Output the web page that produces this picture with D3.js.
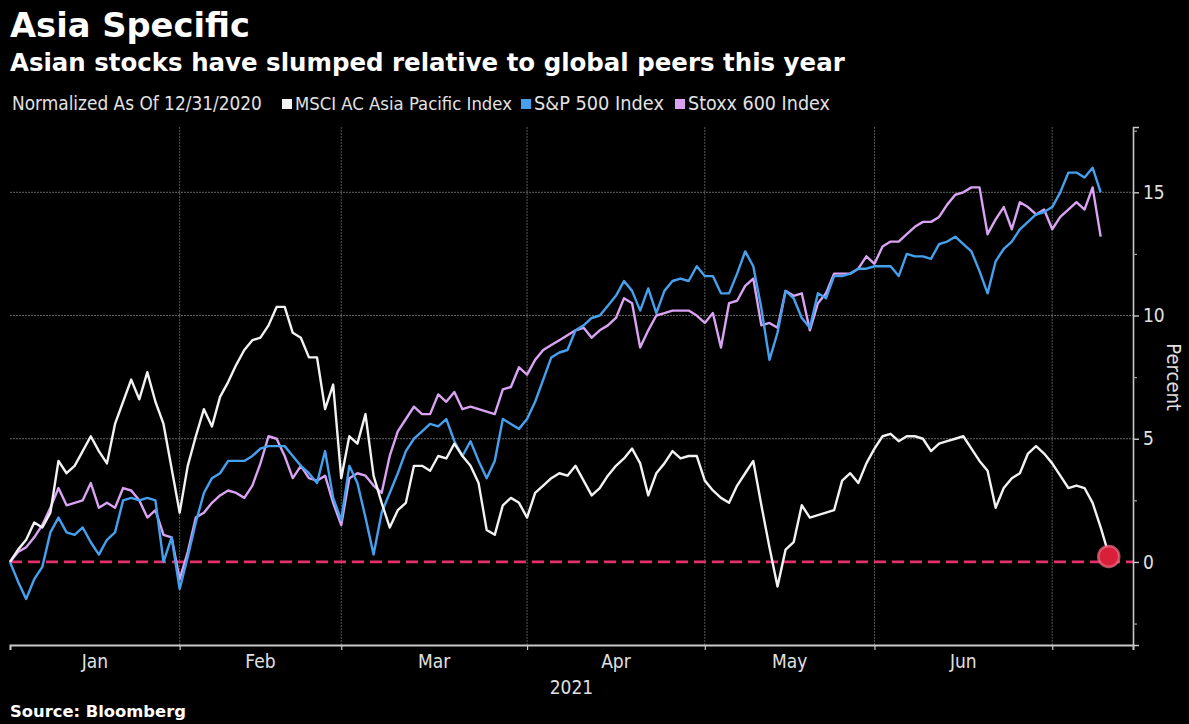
<!DOCTYPE html>
<html>
<head>
<meta charset="utf-8">
<script src="https://cdn.jsdelivr.net/npm/d3@7"></script>
<style>
  html, body { margin: 0; padding: 0; background: #000; }
  svg { display: block; }
</style>
</head>
<body>
<svg id="chart" width="1189" height="724"></svg>
<script>
// ---------------- DATA ----------------
const title = "Asia Specific";
const subtitle = "Asian stocks have slumped relative to global peers this year";
const legendNote = "Normalized As Of 12/31/2020";
const seriesNames = ["MSCI AC Asia Pacific Index", "S&P 500 Index", "Stoxx 600 Index"];
const monthLabels = ["Jan", "Feb", "Mar", "Apr", "May", "Jun"];
const yearLabel = "2021";
const yTicks = [0, 5, 10, 15];
const yMinorTicks = [-2.5, 2.5, 7.5, 12.5, 17.5];
const axisTitle = "Percent";
const source = "Source: Bloomberg";

// weekday dates (one per trading slot on the chart)
const dates = d3.timeDay.range(new Date(2021, 0, 1), new Date(2021, 6, 17))
  .filter(d => d.getDay() !== 0 && d.getDay() !== 6);

// percent change, one value per weekday
const msciAsia = [
  0, 0.5, 0.9, 1.6, 1.4, 2.0, 4.1, 3.6, 3.9, 4.5,
  5.1, 4.5, 4.0, 5.6, 6.5, 7.4, 6.6, 7.7, 6.5, 5.6,
  3.8, 2.0, 3.9, 5.1, 6.2, 5.5, 6.7, 7.3, 8.0, 8.6,
  9.0, 9.1, 9.6, 10.35, 10.35, 9.3, 9.1, 8.3, 8.3, 6.2,
  7.2, 3.4, 5.1, 4.8, 6.0, 3.5, 2.4, 1.4, 2.1, 2.4,
  3.9, 3.9, 3.7, 4.3, 4.2, 4.8, 4.3, 3.9, 3.2, 1.3,
  1.1, 2.3, 2.6, 2.4, 1.8, 2.8, 3.1, 3.4, 3.6, 3.5,
  3.9, 3.3, 2.7, 3.0, 3.5, 3.9, 4.2, 4.6, 4.0, 2.7,
  3.6, 4.0, 4.5, 4.2, 4.3, 4.3, 3.3, 2.9, 2.6, 2.4,
  3.1, 3.6, 4.1, 2.3, 0.6, -1.0, 0.5, 0.8, 2.3, 1.8,
  1.9, 2.0, 2.1, 3.3, 3.6, 3.2, 4.0, 4.6, 5.1, 5.2,
  4.9, 5.1, 5.1, 5.0, 4.5, 4.8, 4.9, 5.0, 5.1, 4.6,
  4.1, 3.7, 2.2, 3.0, 3.4, 3.6, 4.4, 4.7, 4.4, 4.0,
  3.5, 3.0, 3.1, 3.0, 2.4, 1.4, 0.3
];
const sp500 = [
  0, -0.8, -1.5, -0.7, -0.2, 1.2, 1.8, 1.2, 1.1, 1.4,
  0.8, 0.3, 0.9, 1.2, 2.5, 2.6, 2.5, 2.6, 2.5, 0.0,
  1.0, -1.1, 0.2, 1.6, 2.8, 3.4, 3.6, 4.1, 4.1, 4.1,
  4.3, 4.6, 4.7, 4.7, 4.7, 4.3, 3.9, 3.6, 3.2, 4.5,
  2.6, 1.7, 3.9, 3.2, 1.8, 0.3, 2.0, 2.8, 3.6, 4.5,
  5.0, 5.3, 5.6, 5.5, 5.8, 4.9, 4.3, 4.9, 4.1, 3.4,
  4.1, 5.8, 5.6, 5.4, 5.8, 6.5, 7.4, 8.3, 8.5, 8.6,
  9.4, 9.6, 9.9, 10.0, 10.4, 10.8, 11.4, 11.0, 10.2, 11.1,
  10.1, 11.0, 11.4, 11.5, 11.4, 12.0, 11.6, 11.6, 10.9, 10.9,
  11.7, 12.6, 12.0, 10.3, 8.2, 9.3, 11.0, 10.7, 9.9, 9.5,
  10.9, 10.7, 11.6, 11.6, 11.7, 11.9, 11.9, 12.0, 12.0, 12.0,
  11.6, 12.5, 12.4, 12.4, 12.3, 12.9, 13.0, 13.2, 12.9, 12.6,
  11.8, 10.9, 12.2, 12.7, 13.0, 13.5, 13.8, 14.1, 14.2, 14.4,
  15.0, 15.8, 15.8, 15.6, 16.0, 15.0
];
const stoxx600 = [
  0, 0.4, 0.6, 1.0, 1.5, 2.2, 3.0, 2.3, 2.4, 2.5,
  3.2, 2.2, 2.4, 2.2, 3.0, 2.9, 2.5, 1.8, 2.1, 1.1,
  1.0, -0.7, 0.4, 1.8, 2.0, 2.4, 2.7, 2.9, 2.8, 2.6,
  3.1, 4.0, 5.1, 5.0, 4.3, 3.4, 3.9, 3.4, 3.3, 3.5,
  2.4, 1.5, 3.4, 3.6, 3.5, 3.1, 2.8, 4.3, 5.3, 5.8,
  6.3, 6.0, 6.0, 6.8, 6.5, 6.9, 6.2, 6.3, 6.2, 6.1,
  6.0, 7.0, 7.1, 7.9, 7.6, 8.2, 8.6, 8.8, 9.0, 9.2,
  9.4, 9.5, 9.1, 9.4, 9.6, 9.9, 10.7, 10.5, 8.7, 9.4,
  10.0, 10.1, 10.2, 10.2, 10.2, 10.0, 9.7, 10.1, 8.7, 10.5,
  10.6, 11.2, 11.5, 9.6, 9.7, 9.5, 11.0, 10.8, 10.9, 9.4,
  10.5, 10.9, 11.7, 11.7, 11.7, 11.9, 12.4, 12.1, 12.8, 13.0,
  13.0, 13.3, 13.6, 13.8, 13.8, 14.0, 14.5, 14.9, 15.0, 15.2,
  15.2, 13.3, 13.9, 14.4, 13.5, 14.6, 14.4, 14.1, 14.3, 13.5,
  14.0, 14.3, 14.6, 14.3, 15.2, 13.2
];
const seriesValues = [msciAsia, sp500, stoxx600];
const seriesColors = ["#f2f2f2", "#45a0ee", "#d9a2f2"];

// ---------------- LAYOUT ----------------
const svg = d3.select("#chart");
const W = 1189, H = 724;
svg.append("rect").attr("width", W).attr("height", H).attr("fill", "#000");

const plot = { left: 10, right: 1133, top: 127, bottom: 645 };
const x = d3.scaleLinear().domain([0, 139]).range([plot.left, plot.right]);
const y = d3.scaleLinear().domain([-3.37, 17.65]).range([plot.bottom, plot.top]);

const condensed = "'DejaVu Sans Condensed', 'DejaVu Sans', sans-serif";
const boldFont = "'DejaVu Sans', Verdana, sans-serif";

function fitWidth(sel, target) {
  const node = sel.node();
  const w = node.getComputedTextLength();
  const fs = parseFloat(sel.attr("font-size"));
  if (w > 0) sel.attr("font-size", (fs * target / w).toFixed(2));
  return sel;
}

// Titles
fitWidth(svg.append("text").attr("x", 10).attr("y", 37)
  .attr("font-family", boldFont).attr("font-weight", "bold")
  .attr("font-size", 34).attr("fill", "#ffffff").text(title), 240);
fitWidth(svg.append("text").attr("x", 10).attr("y", 71)
  .attr("font-family", boldFont).attr("font-weight", "bold")
  .attr("font-size", 23).attr("fill", "#ffffff").text(subtitle), 835);

// Legend
const legendY = 110;
fitWidth(svg.append("text").attr("x", 12).attr("y", legendY)
  .attr("font-family", condensed).attr("font-size", 16).attr("fill", "#e2e2e2")
  .text(legendNote), 250);
const legendItems = [
  { sq: 282, tx: 295, w: 217 },
  { sq: 521, tx: 534, w: 130 },
  { sq: 675, tx: 688, w: 142 }
];
seriesNames.forEach((name, i) => {
  const it = legendItems[i];
  svg.append("rect").attr("x", it.sq).attr("y", legendY - 11).attr("width", 10).attr("height", 10)
    .attr("fill", seriesColors[i]);
  fitWidth(svg.append("text").attr("x", it.tx).attr("y", legendY)
    .attr("font-family", condensed).attr("font-size", 16).attr("fill", "#e2e2e2")
    .text(name), it.w);
});

// Month boundaries from dates
const boundaries = [];
for (let i = 1; i < dates.length; i++) {
  if (dates[i].getMonth() !== dates[i - 1].getMonth()) boundaries.push(i);
}
const monthEdges = [0].concat(boundaries);

// Gridlines
const grid = svg.append("g");
grid.selectAll("line.h").data(yTicks.filter(v => v !== 0)).join("line")
  .attr("x1", plot.left).attr("x2", plot.right)
  .attr("y1", d => y(d)).attr("y2", d => y(d))
  .attr("stroke", "#666").attr("stroke-width", 1).attr("stroke-dasharray", "2,1");
grid.selectAll("line.v").data(boundaries).join("line")
  .attr("x1", d => x(d)).attr("x2", d => x(d))
  .attr("y1", plot.top).attr("y2", plot.bottom)
  .attr("stroke", "#555").attr("stroke-width", 1).attr("stroke-dasharray", "2,1");

// Zero line
svg.append("line")
  .attr("x1", plot.left).attr("x2", plot.right)
  .attr("y1", y(0)).attr("y2", y(0))
  .attr("stroke", "#e4306a").attr("stroke-width", 2.8).attr("stroke-dasharray", "12,6");

// Lines
const line = d3.line().x((d, i) => x(i)).y(d => y(d));
[2, 1, 0].forEach(k => {
  svg.append("path").datum(seriesValues[k])
    .attr("d", line)
    .attr("fill", "none")
    .attr("stroke", seriesColors[k])
    .attr("stroke-width", 2.4)
    .attr("stroke-linejoin", "round");
});

// End marker on MSCI
const lastI = msciAsia.length - 1;
svg.append("circle").attr("cx", x(lastI)).attr("cy", y(msciAsia[lastI]) + 2).attr("r", 10.5)
  .attr("fill", "#d8203a").attr("stroke", "#f07088").attr("stroke-width", 2.5).attr("stroke-opacity", 0.7);

// X axis
const xAxis = d3.axisBottom(x).tickValues(monthEdges).tickSize(5).tickFormat("");
const gx = svg.append("g").attr("transform", `translate(0,${plot.bottom})`).call(xAxis);
gx.select(".domain").attr("stroke", "#c8c8c8").attr("stroke-width", 2);
gx.selectAll(".tick line").attr("stroke", "#c8c8c8").attr("stroke-width", 1.2);

svg.append("g").selectAll("text").data(monthLabels).join("text")
  .attr("x", (d, i) => x((monthEdges[i] + monthEdges[i + 1]) / 2))
  .attr("y", 668)
  .attr("text-anchor", "middle")
  .attr("font-family", condensed).attr("font-size", 19).attr("fill", "#e0e0e0")
  .text(d => d);
svg.append("text").attr("x", (plot.left + plot.right) / 2).attr("y", 694)
  .attr("text-anchor", "middle")
  .attr("font-family", condensed).attr("font-size", 19).attr("fill", "#e0e0e0")
  .text(yearLabel);

// Y axis (right)
const yAxis = d3.axisRight(y).tickValues(yTicks).tickSize(6).tickPadding(4).tickFormat(d3.format("d"));
const gy = svg.append("g").attr("transform", `translate(${plot.right},0)`).call(yAxis);
gy.select(".domain").attr("stroke", "#c8c8c8").attr("stroke-width", 1.6);
gy.selectAll(".tick line").attr("stroke", "#c8c8c8").attr("stroke-width", 1.4);
gy.selectAll(".tick text").attr("font-family", condensed).attr("font-size", 19).attr("fill", "#e0e0e0");
const yMinor = d3.axisRight(y).tickValues(yMinorTicks).tickSize(4).tickFormat("");
const gym = svg.append("g").attr("transform", `translate(${plot.right},0)`).call(yMinor);
gym.select(".domain").remove();
gym.selectAll(".tick line").attr("stroke", "#aaaaaa").attr("stroke-width", 1.2);

svg.append("text")
  .attr("transform", `translate(1167, ${y(7.5)}) rotate(90)`)
  .attr("text-anchor", "middle")
  .attr("font-family", condensed).attr("font-size", 20).attr("fill", "#e0e0e0")
  .text(axisTitle);

// Source
fitWidth(svg.append("text").attr("x", 10).attr("y", 717)
  .attr("font-family", boldFont).attr("font-weight", "bold")
  .attr("font-size", 15).attr("fill", "#ffffff").text(source), 176);
</script>
</body>
</html>
